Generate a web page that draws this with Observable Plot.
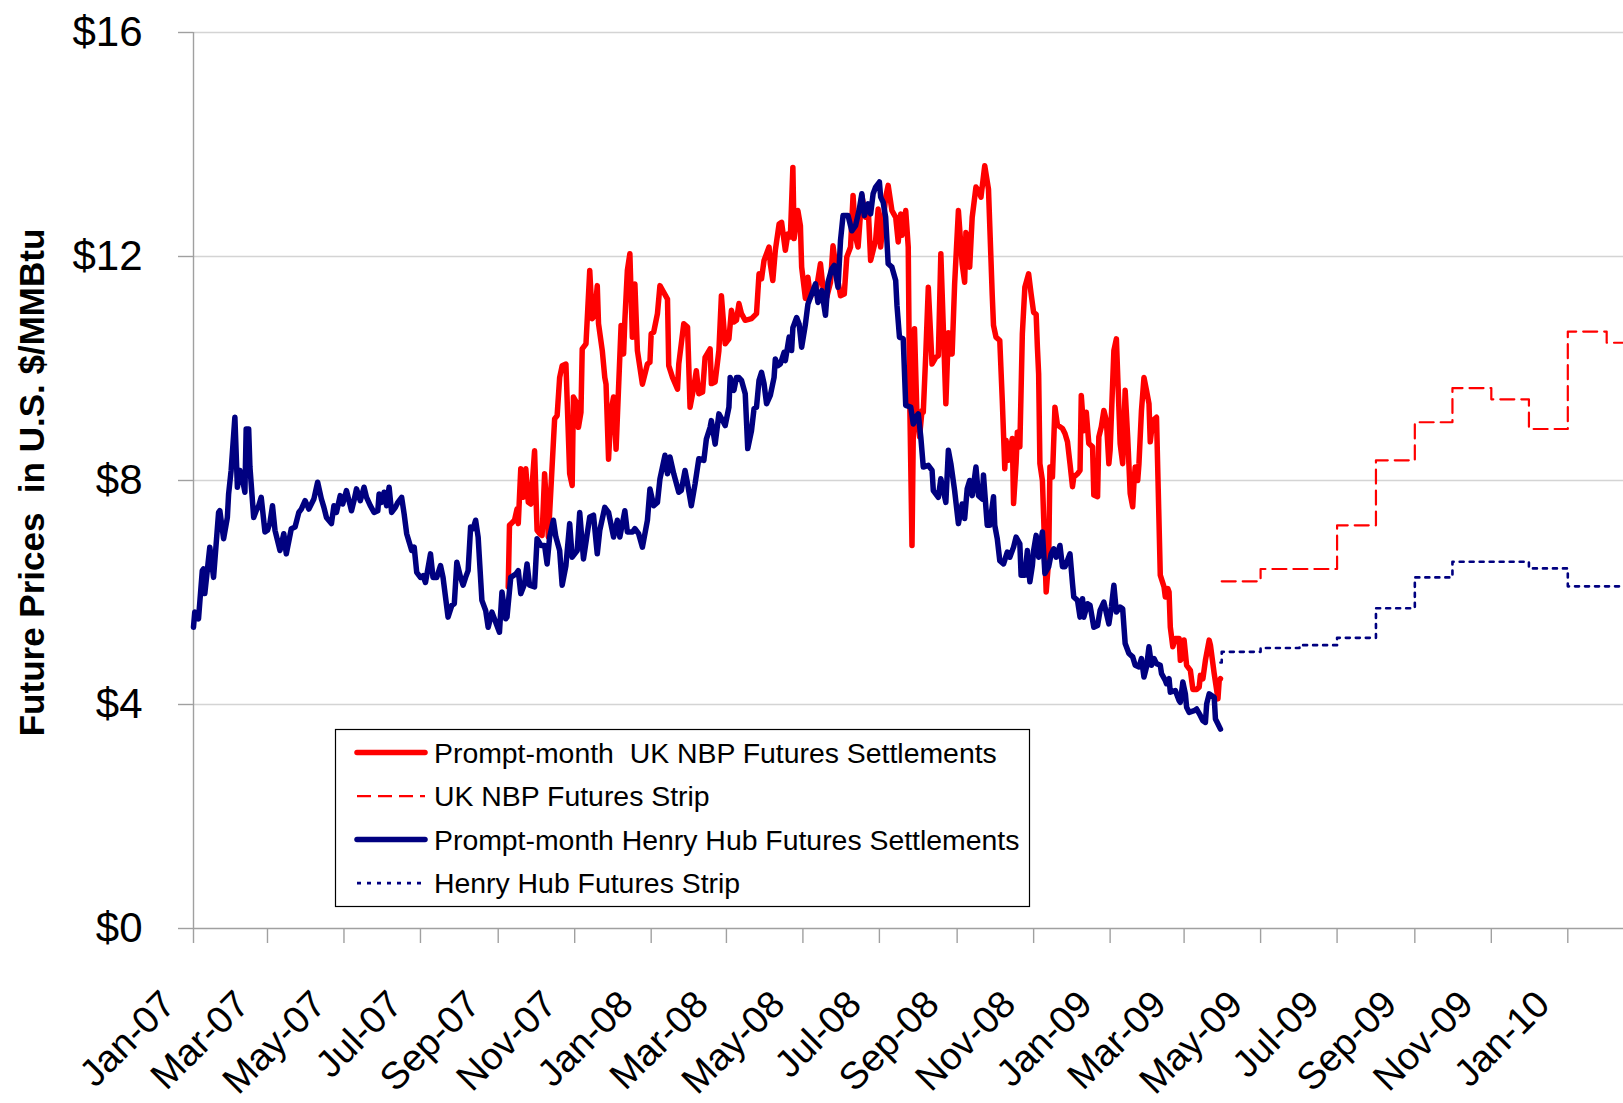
<!DOCTYPE html>
<html>
<head>
<meta charset="utf-8">
<script src="https://cdn.jsdelivr.net/npm/d3@7"></script>
<script src="https://cdn.jsdelivr.net/npm/@observablehq/plot@0.6"></script>
<style>
html,body{margin:0;padding:0;background:#fff;overflow:hidden}
#chart{position:relative;width:1623px;height:1103px}
</style>
</head>
<body>
<div id="chart"></div>
<script>
// ---- data ----
const hhPrompt = [["2007-01-01",5.38],["2007-01-02",5.65],["2007-01-05",5.53],["2007-01-08",6.39],["2007-01-09",6.42],["2007-01-10",5.98],["2007-01-14",6.81],["2007-01-17",6.27],["2007-01-21",7.43],["2007-01-22",7.46],["2007-01-25",6.96],["2007-01-28",7.34],["2007-01-29",7.76],["2007-01-31",8.18],["2007-02-03",9.13],["2007-02-05",7.88],["2007-02-07",8.18],["2007-02-09",8.03],["2007-02-11",7.79],["2007-02-12",8.92],["2007-02-14",8.92],["2007-02-15",8.24],["2007-02-18",7.34],["2007-02-20",7.46],["2007-02-22",7.55],["2007-02-24",7.70],["2007-02-27",7.08],["2007-03-01",7.11],["2007-03-03",7.25],["2007-03-05",7.55],["2007-03-07",7.11],["2007-03-11",6.75],["2007-03-14",7.05],["2007-03-16",6.69],["2007-03-20",7.14],["2007-03-23",7.17],["2007-03-26",7.43],["2007-03-28",7.49],["2007-03-31",7.64],["2007-04-03",7.49],["2007-04-07",7.67],["2007-04-10",7.97],["2007-04-13",7.67],["2007-04-15",7.52],["2007-04-17",7.34],["2007-04-21",7.23],["2007-04-23",7.55],["2007-04-25",7.43],["2007-04-28",7.73],["2007-04-30",7.58],["2007-05-03",7.82],["2007-05-07",7.46],["2007-05-09",7.64],["2007-05-11",7.85],["2007-05-14",7.64],["2007-05-17",7.88],["2007-05-19",7.70],["2007-05-22",7.55],["2007-05-25",7.43],["2007-05-28",7.46],["2007-05-29",7.76],["2007-05-31",7.61],["2007-06-02",7.79],["2007-06-04",7.55],["2007-06-06",7.88],["2007-06-08",7.43],["2007-06-11",7.52],["2007-06-13",7.61],["2007-06-16",7.70],["2007-06-18",7.40],["2007-06-20",7.05],["2007-06-24",6.75],["2007-06-26",6.81],["2007-06-28",6.36],["2007-07-01",6.27],["2007-07-03",6.30],["2007-07-05",6.18],["2007-07-09",6.69],["2007-07-11",6.27],["2007-07-14",6.27],["2007-07-17",6.48],["2007-07-19",6.27],["2007-07-23",5.56],["2007-07-26",5.77],["2007-07-28",5.80],["2007-07-30",6.54],["2007-08-02",6.27],["2007-08-04",6.13],["2007-08-06",6.27],["2007-08-08",6.39],["2007-08-10",7.17],["2007-08-12",7.14],["2007-08-14",7.29],["2007-08-16",6.99],["2007-08-19",5.86],["2007-08-22",5.68],["2007-08-24",5.38],["2007-08-27",5.65],["2007-08-30",5.47],["2007-09-02",5.29],["2007-09-04",6.01],["2007-09-07",5.53],["2007-09-08",5.56],["2007-09-11",6.27],["2007-09-15",6.33],["2007-09-17",6.39],["2007-09-19",5.98],["2007-09-22",6.15],["2007-09-24",6.51],["2007-09-26",6.13],["2007-09-30",6.10],["2007-10-02",6.96],["2007-10-05",6.84],["2007-10-08",6.84],["2007-10-10",6.51],["2007-10-12",6.99],["2007-10-15",7.29],["2007-10-17",6.99],["2007-10-20",6.75],["2007-10-22",6.13],["2007-10-25",6.48],["2007-10-28",7.23],["2007-10-30",6.63],["2007-11-01",6.69],["2007-11-03",6.75],["2007-11-05",7.43],["2007-11-08",6.60],["2007-11-09",6.75],["2007-11-13",7.35],["2007-11-16",7.38],["2007-11-19",6.69],["2007-11-21",7.11],["2007-11-25",7.52],["2007-11-28",7.43],["2007-12-02",6.99],["2007-12-05",7.29],["2007-12-07",6.99],["2007-12-11",7.46],["2007-12-13",7.08],["2007-12-17",7.08],["2007-12-19",7.14],["2007-12-22",7.05],["2007-12-25",6.81],["2007-12-29",7.29],["2007-12-31",7.85],["2008-01-03",7.55],["2008-01-06",7.61],["2008-01-08",8.03],["2008-01-12",8.45],["2008-01-14",8.12],["2008-01-16",8.42],["2008-01-19",8.12],["2008-01-23",7.79],["2008-01-25",7.82],["2008-01-28",8.18],["2008-01-30",7.94],["2008-02-02",7.55],["2008-02-05",7.94],["2008-02-08",8.39],["2008-02-12",8.36],["2008-02-14",8.74],["2008-02-17",8.95],["2008-02-18",9.07],["2008-02-21",8.65],["2008-02-24",9.19],["2008-02-27",9.07],["2008-02-29",8.98],["2008-03-03",9.31],["2008-03-04",9.84],["2008-03-07",9.61],["2008-03-09",9.84],["2008-03-11",9.84],["2008-03-13",9.79],["2008-03-16",9.55],["2008-03-18",8.57],["2008-03-21",8.89],["2008-03-23",9.28],["2008-03-25",9.31],["2008-03-27",9.79],["2008-03-29",9.93],["2008-03-31",9.73],["2008-04-02",9.37],["2008-04-05",9.52],["2008-04-08",9.84],["2008-04-09",10.17],["2008-04-11",10.05],["2008-04-13",10.08],["2008-04-16",10.29],["2008-04-17",10.14],["2008-04-20",10.56],["2008-04-22",10.32],["2008-04-23",10.73],["2008-04-26",10.91],["2008-04-28",10.79],["2008-04-30",10.38],["2008-05-03",10.79],["2008-05-05",11.15],["2008-05-07",11.27],["2008-05-09",11.39],["2008-05-11",11.51],["2008-05-13",11.18],["2008-05-16",11.39],["2008-05-19",10.95],["2008-05-21",11.54],["2008-05-24",11.78],["2008-05-26",11.84],["2008-05-29",11.45],["2008-05-31",12.29],["2008-06-02",12.73],["2008-06-06",12.73],["2008-06-09",12.46],["2008-06-12",12.55],["2008-06-15",12.85],["2008-06-17",13.12],["2008-06-19",12.73],["2008-06-22",12.94],["2008-06-24",12.76],["2008-06-26",13.12],["2008-06-28",13.24],["2008-07-01",13.33],["2008-07-02",13.06],["2008-07-04",12.97],["2008-07-06",12.70],["2008-07-08",11.87],["2008-07-11",11.81],["2008-07-14",11.57],["2008-07-15",11.13],["2008-07-17",10.56],["2008-07-20",10.53],["2008-07-22",9.34],["2008-07-26",9.31],["2008-07-28",9.01],["2008-07-30",9.13],["2008-08-01",9.19],["2008-08-03",8.78],["2008-08-05",8.24],["2008-08-09",8.27],["2008-08-12",8.18],["2008-08-13",7.82],["2008-08-17",7.70],["2008-08-19",8.03],["2008-08-23",7.61],["2008-08-25",8.54],["2008-08-27",8.30],["2008-08-30",7.82],["2008-09-02",7.23],["2008-09-05",7.58],["2008-09-07",7.32],["2008-09-09",7.85],["2008-09-11",8.00],["2008-09-13",7.73],["2008-09-16",8.24],["2008-09-18",7.73],["2008-09-21",7.67],["2008-09-22",8.10],["2008-09-25",7.20],["2008-09-27",7.20],["2008-09-30",7.71],["2008-10-01",7.20],["2008-10-03",6.96],["2008-10-05",6.57],["2008-10-08",6.51],["2008-10-11",6.72],["2008-10-13",6.63],["2008-10-16",6.81],["2008-10-18",6.99],["2008-10-21",6.87],["2008-10-22",6.31],["2008-10-25",6.31],["2008-10-27",6.75],["2008-10-29",6.19],["2008-10-31",6.48],["2008-11-01",6.75],["2008-11-03",7.02],["2008-11-05",6.63],["2008-11-08",7.08],["2008-11-10",6.34],["2008-11-13",6.46],["2008-11-15",6.69],["2008-11-17",6.78],["2008-11-19",6.63],["2008-11-22",6.84],["2008-11-24",6.46],["2008-11-26",6.46],["2008-11-30",6.69],["2008-12-02",6.16],["2008-12-03",5.92],["2008-12-06",5.86],["2008-12-08",5.56],["2008-12-10",5.89],["2008-12-11",5.56],["2008-12-14",5.80],["2008-12-16",5.77],["2008-12-19",5.38],["2008-12-22",5.41],["2008-12-24",5.68],["2008-12-27",5.83],["2008-12-31",5.44],["2009-01-02",5.74],["2009-01-04",6.13],["2009-01-06",5.65],["2009-01-09",5.74],["2009-01-11",5.71],["2009-01-13",5.09],["2009-01-16",4.91],["2009-01-19",4.85],["2009-01-21",4.70],["2009-01-24",4.67],["2009-01-26",4.82],["2009-01-28",4.49],["2009-01-30",4.67],["2009-02-01",5.03],["2009-02-03",4.70],["2009-02-05",4.82],["2009-02-07",4.73],["2009-02-10",4.70],["2009-02-11",4.55],["2009-02-14",4.43],["2009-02-15",4.37],["2009-02-17",4.46],["2009-02-18",4.22],["2009-02-22",4.25],["2009-02-25",4.07],["2009-02-26",4.04],["2009-02-28",4.40],["2009-03-02",4.19],["2009-03-03",3.95],["2009-03-05",3.86],["2009-03-09",3.89],["2009-03-11",3.92],["2009-03-14",3.80],["2009-03-16",3.71],["2009-03-18",3.68],["2009-03-19",4.01],["2009-03-21",4.19],["2009-03-25",4.13],["2009-03-26",3.74],["2009-03-28",3.65],["2009-03-30",3.56]];

const nbpPrompt = [["2007-09-09",6.10],["2007-09-10",7.20],["2007-09-14",7.29],["2007-09-16",7.49],["2007-09-17",7.23],["2007-09-19",8.21],["2007-09-21",7.70],["2007-09-23",8.21],["2007-09-25",7.61],["2007-09-27",7.58],["2007-09-30",8.53],["2007-10-02",7.11],["2007-10-04",7.05],["2007-10-06",7.02],["2007-10-08",8.12],["2007-10-11",6.99],["2007-10-16",9.10],["2007-10-18",9.16],["2007-10-20",9.84],["2007-10-22",10.05],["2007-10-25",10.08],["2007-10-28",8.12],["2007-10-30",7.91],["2007-10-31",9.49],["2007-11-03",9.37],["2007-11-04",8.95],["2007-11-06",9.22],["2007-11-07",10.35],["2007-11-10",10.44],["2007-11-13",11.75],["2007-11-15",10.89],["2007-11-17",10.95],["2007-11-19",11.48],["2007-11-20",10.80],["2007-11-23",10.32],["2007-11-25",9.84],["2007-11-26",9.72],["2007-11-28",8.38],["2007-11-30",9.25],["2007-12-02",9.49],["2007-12-04",8.56],["2007-12-08",10.77],["2007-12-10",10.26],["2007-12-11",10.86],["2007-12-13",11.75],["2007-12-15",12.05],["2007-12-17",10.56],["2007-12-19",11.51],["2007-12-21",10.32],["2007-12-25",9.72],["2007-12-29",10.08],["2007-12-31",10.11],["2008-01-01",10.62],["2008-01-03",10.65],["2008-01-06",10.98],["2008-01-08",11.48],["2008-01-11",11.36],["2008-01-14",11.24],["2008-01-15",10.05],["2008-01-18",9.84],["2008-01-22",9.63],["2008-01-23",10.08],["2008-01-27",10.80],["2008-01-30",10.74],["2008-02-01",9.31],["2008-02-04",9.67],["2008-02-06",9.96],["2008-02-08",9.55],["2008-02-11",9.58],["2008-02-13",10.20],["2008-02-17",10.35],["2008-02-18",9.73],["2008-02-21",9.76],["2008-02-24",10.32],["2008-02-26",11.30],["2008-02-29",10.44],["2008-03-03",10.53],["2008-03-05",11.04],["2008-03-07",10.83],["2008-03-09",10.86],["2008-03-11",11.16],["2008-03-13",10.98],["2008-03-16",10.86],["2008-03-21",10.89],["2008-03-25",10.98],["2008-03-27",11.69],["2008-03-29",11.60],["2008-03-31",11.93],["2008-04-04",12.17],["2008-04-05",11.87],["2008-04-07",11.57],["2008-04-09",12.11],["2008-04-12",12.58],["2008-04-14",12.61],["2008-04-17",12.11],["2008-04-19",12.40],["2008-04-21",12.35],["2008-04-23",13.59],["2008-04-24",12.32],["2008-04-27",12.82],["2008-04-29",12.55],["2008-04-30",11.81],["2008-05-03",11.25],["2008-05-05",11.63],["2008-05-07",11.27],["2008-05-09",11.39],["2008-05-12",11.45],["2008-05-15",11.87],["2008-05-17",11.45],["2008-05-20",11.27],["2008-05-23",11.54],["2008-05-25",12.19],["2008-05-28",11.69],["2008-05-31",11.30],["2008-06-03",11.33],["2008-06-05",11.99],["2008-06-08",12.17],["2008-06-10",13.09],["2008-06-12",12.35],["2008-06-14",12.17],["2008-06-17",13.09],["2008-06-20",12.70],["2008-06-22",12.91],["2008-06-24",11.93],["2008-06-26",12.11],["2008-06-28",12.29],["2008-06-30",12.85],["2008-07-02",12.17],["2008-07-06",13.06],["2008-07-08",13.27],["2008-07-11",12.82],["2008-07-14",12.70],["2008-07-16",12.26],["2008-07-18",12.76],["2008-07-19",12.38],["2008-07-22",12.82],["2008-07-24",12.17],["2008-07-25",9.73],["2008-07-27",6.84],["2008-07-29",10.71],["2008-07-31",9.13],["2008-08-02",8.78],["2008-08-04",9.25],["2008-08-05",9.22],["2008-08-07",10.26],["2008-08-09",11.45],["2008-08-12",10.08],["2008-08-15",10.20],["2008-08-17",10.23],["2008-08-19",12.05],["2008-08-23",9.37],["2008-08-25",10.64],["2008-08-28",10.26],["2008-08-30",11.51],["2008-09-02",12.82],["2008-09-05",11.87],["2008-09-07",11.54],["2008-09-08",12.43],["2008-09-10",11.93],["2008-09-11",11.81],["2008-09-13",12.70],["2008-09-16",13.24],["2008-09-18",13.18],["2008-09-20",13.06],["2008-09-23",13.62],["2008-09-26",13.20],["2008-09-29",11.30],["2008-09-30",10.77],["2008-10-02",10.56],["2008-10-05",10.50],["2008-10-07",9.43],["2008-10-09",8.21],["2008-10-10",8.72],["2008-10-12",8.36],["2008-10-15",8.75],["2008-10-16",7.59],["2008-10-18",8.30],["2008-10-19",8.86],["2008-10-21",8.60],["2008-10-23",10.62],["2008-10-25",11.45],["2008-10-28",11.69],["2008-10-30",11.33],["2008-11-01",11.00],["2008-11-03",10.97],["2008-11-04",10.38],["2008-11-05",9.90],["2008-11-06",8.30],["2008-11-08",8.00],["2008-11-11",6.01],["2008-11-13",6.58],["2008-11-14",8.24],["2008-11-16",8.06],["2008-11-18",9.31],["2008-11-20",8.99],["2008-11-24",8.93],["2008-11-26",8.84],["2008-11-28",8.69],["2008-11-30",8.30],["2008-12-02",7.89],["2008-12-03",8.06],["2008-12-06",8.12],["2008-12-08",8.18],["2008-12-09",9.52],["2008-12-11",8.89],["2008-12-13",9.22],["2008-12-15",8.66],["2008-12-18",8.60],["2008-12-19",7.74],["2008-12-22",7.71],["2008-12-23",8.78],["2008-12-25",8.96],["2008-12-27",9.25],["2008-12-29",9.07],["2008-12-31",8.30],["2009-01-01",8.54],["2009-01-03",9.73],["2009-01-04",10.32],["2009-01-06",10.53],["2009-01-09",8.66],["2009-01-11",8.30],["2009-01-13",9.61],["2009-01-15",8.78],["2009-01-17",7.77],["2009-01-19",7.53],["2009-01-20",7.95],["2009-01-21",8.24],["2009-01-23",8.00],["2009-01-24",8.30],["2009-01-26",9.25],["2009-01-28",9.84],["2009-01-30",9.61],["2009-02-01",9.37],["2009-02-02",8.69],["2009-02-04",9.07],["2009-02-07",9.13],["2009-02-10",6.31],["2009-02-13",6.10],["2009-02-14",5.92],["2009-02-16",6.07],["2009-02-17",6.01],["2009-02-18",5.38],["2009-02-20",5.03],["2009-02-22",5.18],["2009-02-25",5.18],["2009-02-26",4.79],["2009-02-27",4.82],["2009-03-01",5.15],["2009-03-03",4.70],["2009-03-06",4.61],["2009-03-08",4.27],["2009-03-11",4.27],["2009-03-13",4.31],["2009-03-14",4.52],["2009-03-16",4.46],["2009-03-18",4.79],["2009-03-21",5.15],["2009-03-22",5.06],["2009-03-25",4.55],["2009-03-28",4.10],["2009-03-29",4.43],["2009-03-30",4.46]];

const nbpStrip = [["2009-03-31",6.20],["2009-05-01",6.42],["2009-06-01",6.42],["2009-07-01",7.20],["2009-08-01",8.36],["2009-09-01",9.04],["2009-10-01",9.65],["2009-11-01",9.45],["2009-12-01",8.92],["2010-01-01",10.66],["2010-02-01",10.46],["2010-03-01",10.46]];

const hhStrip = [["2009-03-30",4.75],["2009-03-31",4.94],["2009-05-01",5.01],["2009-06-01",5.06],["2009-07-01",5.19],["2009-08-01",5.72],["2009-09-01",6.27],["2009-10-01",6.55],["2009-11-01",6.55],["2009-12-01",6.43],["2010-01-01",6.11],["2010-02-01",6.11],["2010-03-01",6.11]];

const yTicks = [0, 4, 8, 12, 16];
const yTickLabels = ["$0", "$4", "$8", "$12", "$16"];
const xTickDates = ["2007-01-01","2007-03-01","2007-05-01","2007-07-01","2007-09-01","2007-11-01","2008-01-01","2008-03-01","2008-05-01","2008-07-01","2008-09-01","2008-11-01","2009-01-01","2009-03-01","2009-05-01","2009-07-01","2009-09-01","2009-11-01","2010-01-01"];
const xTickLabels = ["Jan-07","Mar-07","May-07","Jul-07","Sep-07","Nov-07","Jan-08","Mar-08","May-08","Jul-08","Sep-08","Nov-08","Jan-09","Mar-09","May-09","Jul-09","Sep-09","Nov-09","Jan-10"];
const yTitle = "Future Prices\u00a0 in U.S. $/MMBtu";
const seriesNames = ["Prompt-month\u00a0 UK NBP Futures Settlements", "UK NBP Futures Strip", "Prompt-month Henry Hub Futures Settlements", "Henry Hub Futures Strip"];

// ---- build ----
const toRows = a => a.map(([d, v]) => ({date: new Date(d), value: v}));
const RED = "#FF0000", NAVY = "#000080", AXIS = "#a0a0a0", GRID = "#d4d4d4";
const FONT = "'Liberation Sans', Arial, Helvetica, sans-serif";
const tickDates = xTickDates.map(d => new Date(d));

const chart = Plot.plot({
  width: 1623,
  height: 1103,
  marginLeft: 193,
  marginRight: 0,
  marginTop: 32,
  marginBottom: 175,
  style: {fontFamily: FONT, background: "#fff", overflow: "visible", color: "black"},
  x: {type: "utc", domain: [new Date("2007-01-01"), new Date(Date.UTC(2010, 1, 14, 10))], axis: null},
  y: {domain: [0, 16], axis: null},
  marks: [
    Plot.ruleY([4, 8, 12, 16], {stroke: GRID, strokeWidth: 1.4}),
    Plot.axisY({ticks: yTicks, tickSize: 15, tickFormat: () => "", label: null, stroke: AXIS, strokeWidth: 1.4}),
    Plot.axisX({ticks: tickDates, tickSize: 15, tickFormat: () => "", label: null, stroke: AXIS, strokeWidth: 1.4}),
    Plot.ruleY([0], {stroke: AXIS, strokeWidth: 1.4}),
    Plot.ruleX([new Date("2007-01-01")], {stroke: AXIS, strokeWidth: 1.4}),
    Plot.text(yTicks, {y: d => d, text: (d, i) => yTickLabels[i], frameAnchor: "left", dx: -51, textAnchor: "end", fontSize: 42, fill: "black"}),
    Plot.text(tickDates, {x: d => d, text: (d, i) => xTickLabels[i], frameAnchor: "bottom", rotate: -45, textAnchor: "end", dx: -16, dy: 78, fontSize: 38, fill: "black"}),
    Plot.text([yTitle], {frameAnchor: "left", dx: -150, dy: 2, rotate: -90, textAnchor: "middle", lineAnchor: "bottom", fontSize: 35, fontWeight: "bold", fill: "black"}),
    Plot.line(toRows(nbpStrip), {x: "date", y: "value", curve: "step-after", stroke: RED, strokeWidth: 2.2, strokeDasharray: "14,7", clip: true}),
    Plot.line(toRows(nbpPrompt), {x: "date", y: "value", stroke: RED, strokeWidth: 5.5, strokeLinejoin: "round", strokeLinecap: "round"}),
    Plot.line(toRows(hhStrip), {x: "date", y: "value", curve: "step-after", stroke: NAVY, strokeWidth: 2.6, strokeDasharray: "4,6", clip: true}),
    Plot.line(toRows(hhPrompt), {x: "date", y: "value", stroke: NAVY, strokeWidth: 5.5, strokeLinejoin: "round", strokeLinecap: "round"})
  ]
});

// ---- legend box ----
const svg = d3.select(chart);
const lg = svg.append("g").attr("font-family", FONT).attr("text-anchor", "start");
lg.append("rect").attr("x", 335.5).attr("y", 729.5).attr("width", 694).attr("height", 177)
  .attr("fill", "#fff").attr("stroke", "#000").attr("stroke-width", 1.2);
const rowsY = [752.6, 796.1, 839.6, 883.1];
const styles = [
  {stroke: RED, w: 5.5, dash: null, cap: "round"},
  {stroke: RED, w: 2.2, dash: "14,7", cap: "butt"},
  {stroke: NAVY, w: 5.5, dash: null, cap: "round"},
  {stroke: NAVY, w: 2.6, dash: "4,6", cap: "butt"}
];
seriesNames.forEach((name, i) => {
  const s = styles[i];
  const ln = lg.append("line").attr("x1", 357).attr("x2", 425).attr("y1", rowsY[i]).attr("y2", rowsY[i])
    .attr("stroke", s.stroke).attr("stroke-width", s.w).attr("stroke-linecap", s.cap);
  if (s.dash) ln.attr("stroke-dasharray", s.dash);
  lg.append("text").attr("x", 434).attr("y", rowsY[i]).attr("dy", "0.35em")
    .attr("text-anchor", "start").attr("font-size", 28.4).attr("fill", "#000").text(name);
});

document.getElementById("chart").appendChild(chart);
</script>
</body>
</html>
